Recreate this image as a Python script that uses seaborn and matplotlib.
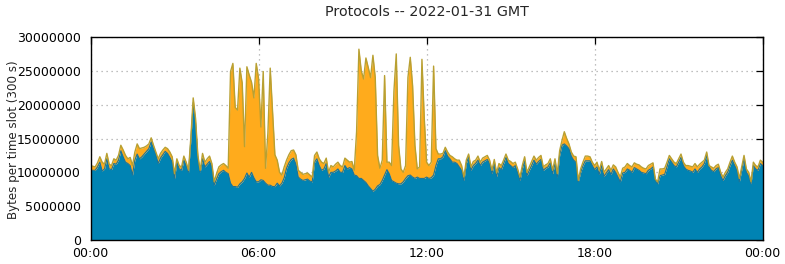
import numpy as np
import pandas as pd
import matplotlib
matplotlib.use("Agg")
import matplotlib.pyplot as plt
from matplotlib.ticker import FuncFormatter, FixedLocator
import seaborn as sns

# 5-minute slots, values in millions of bytes per slot (one row per hour)
blue_mb = [
    10.3, 10.3, 10.3, 10.8, 11.5, 10.2, 10.5, 12.0, 10.5, 10.4, 11.3, 11.2,
    11.8, 13.2, 12.3, 11.5, 11.3, 11.0, 9.6, 11.8, 12.7, 12.0, 12.3, 12.7,
    13.1, 13.5, 14.5, 13.5, 12.7, 11.3, 12.1, 12.6, 13.1, 12.8, 12.2, 11.5,
    9.1, 11.5, 10.5, 10.3, 11.8, 11.0, 10.0, 14.8, 20.3, 17.3, 12.0, 10.0,
    12.0, 10.8, 11.2, 11.6, 10.8, 8.1, 9.0, 9.8, 10.1, 10.3, 10.0, 9.8,
    8.4, 7.9, 7.9, 7.8, 8.3, 8.6, 9.1, 9.9, 9.3, 10.0, 9.2, 8.6,
    8.6, 8.9, 8.8, 8.4, 8.1, 8.1, 7.9, 7.9, 8.4, 8.0, 8.4, 9.2,
    10.6, 11.4, 11.9, 12.1, 11.2, 9.3, 9.0, 8.8, 8.9, 9.0, 8.7, 8.6,
    11.5, 12.0, 11.0, 10.3, 10.5, 11.3, 9.3, 10.0, 10.0, 10.2, 10.5, 10.0,
    10.0, 11.0, 10.5, 10.7, 10.5, 9.6, 9.5, 9.1, 9.1, 8.8, 8.5, 8.0,
    7.6, 7.2, 7.5, 8.0, 8.2, 8.8, 9.6, 10.4, 9.8, 8.8, 8.6, 8.4,
    8.3, 8.3, 8.6, 9.1, 9.5, 9.6, 9.3, 9.1, 9.3, 9.1, 9.1, 9.1,
    9.3, 9.1, 9.2, 9.6, 11.0, 12.0, 12.0, 12.3, 13.2, 12.4, 12.0, 11.5,
    11.5, 11.3, 10.8, 10.3, 8.8, 11.3, 12.3, 10.3, 11.0, 11.3, 11.8, 11.0,
    11.5, 11.7, 11.9, 11.3, 9.8, 11.3, 9.4, 10.7, 10.4, 11.3, 12.2, 11.3,
    11.0, 10.7, 11.0, 10.0, 8.8, 10.5, 11.7, 9.5, 10.3, 11.0, 11.8, 11.2,
    11.6, 11.9, 10.3, 10.6, 10.8, 11.4, 9.8, 11.3, 9.3, 12.5, 14.0, 14.2,
    13.9, 13.5, 12.4, 11.8, 11.5, 8.6, 10.0, 11.0, 11.7, 11.7, 11.7, 11.0,
    10.4, 10.8, 9.7, 11.0, 9.4, 9.9, 10.4, 9.7, 10.5, 10.0, 9.3, 8.6,
    9.9, 10.0, 10.5, 10.3, 10.0, 10.7, 10.5, 10.3, 10.0, 9.9, 9.8, 10.3,
    10.5, 10.8, 8.8, 8.3, 9.5, 9.6, 9.7, 10.8, 12.0, 11.5, 11.0, 10.8,
    11.5, 12.2, 11.0, 10.5, 10.3, 10.2, 10.0, 10.5, 10.0, 10.5, 10.8, 11.3,
    12.5, 10.8, 10.3, 10.1, 10.5, 10.7, 9.5, 8.8, 9.5, 10.0, 11.0, 11.8,
    11.0, 10.3, 8.6, 10.3, 12.0, 10.0, 9.5, 8.3, 11.0, 10.5, 10.3, 11.3,
    11.0,
]

total_mb = [
    11.0, 10.9, 10.8, 11.4, 12.3, 11.5, 11.2, 12.8, 11.2, 11.0, 12.0, 11.8,
    12.5, 14.0, 13.3, 12.5, 12.0, 12.2, 11.0, 13.0, 14.2, 13.5, 13.6, 13.7,
    13.9, 14.2, 15.1, 14.0, 13.0, 12.0, 12.8, 13.3, 13.7, 13.5, 13.0, 12.3,
    9.8, 12.0, 11.0, 10.8, 12.4, 11.5, 10.3, 15.2, 21.0, 18.0, 12.5, 10.3,
    12.8, 11.5, 12.0, 12.4, 11.3, 8.6, 9.8, 10.8, 11.1, 11.3, 11.0, 10.6,
    24.9, 26.1, 19.6, 19.2, 25.4, 23.2, 13.8, 25.6, 24.4, 23.3, 21.0, 26.1,
    23.9, 16.7, 24.9, 10.6, 15.8, 25.4, 19.0, 12.6, 11.8, 10.0, 9.6, 10.8,
    11.8, 12.6, 13.2, 13.3, 12.6, 10.3, 10.0, 9.7, 9.8, 9.9, 9.6, 9.3,
    12.5, 13.0, 12.0, 11.5, 11.3, 12.1, 10.0, 11.0, 10.8, 11.2, 11.5, 11.0,
    10.8, 12.1, 11.8, 11.5, 11.6, 10.3, 16.0, 28.2, 25.0, 23.8, 26.9, 25.5,
    24.0, 27.3, 24.0, 12.5, 10.6, 11.8, 24.3, 11.5, 11.5, 11.0, 22.0, 27.5,
    14.0, 10.5, 10.0, 11.0, 24.0, 27.0, 22.8, 14.0, 10.5, 10.8, 26.7, 18.0,
    11.5, 11.0, 11.5, 25.7, 13.5, 12.7, 12.7, 12.8, 13.7, 13.0, 12.5, 12.3,
    12.0, 11.8, 11.8, 11.0, 9.3, 11.8, 12.7, 10.8, 11.6, 11.8, 12.4, 11.5,
    12.1, 12.3, 12.5, 11.8, 10.3, 11.9, 9.9, 11.3, 11.0, 11.8, 12.7, 11.8,
    11.6, 11.3, 11.5, 10.5, 9.3, 11.0, 12.3, 10.0, 10.8, 11.6, 12.4, 11.8,
    12.2, 12.5, 10.8, 11.1, 11.3, 12.0, 10.3, 12.0, 9.8, 13.2, 14.7, 16.0,
    15.0, 14.2, 13.0, 12.4, 12.3, 8.8, 10.5, 11.5, 12.4, 12.4, 12.3, 11.5,
    11.0, 11.5, 10.3, 11.6, 10.0, 10.5, 11.0, 10.3, 11.1, 10.8, 10.0, 9.3,
    10.6, 10.8, 11.3, 11.0, 10.8, 11.4, 11.2, 11.1, 10.8, 10.6, 10.5, 11.0,
    11.2, 11.4, 9.0, 8.6, 10.5, 10.5, 10.6, 11.5, 12.5, 12.0, 11.5, 11.3,
    12.0, 12.7, 11.5, 11.0, 11.0, 10.9, 10.8, 11.3, 10.8, 11.2, 11.5, 11.8,
    13.0, 11.0, 10.8, 10.6, 11.0, 11.2, 10.0, 9.3, 10.0, 10.5, 11.5, 12.4,
    11.5, 10.8, 9.1, 10.8, 12.5, 10.5, 10.0, 8.6, 11.5, 11.0, 10.8, 11.8,
    11.5,
]

x_tick_hours = [0, 6, 12, 18, 24]
x_tick_labels = ["00:00", "06:00", "12:00", "18:00", "00:00"]
y_ticks = [0, 5000000, 10000000, 15000000, 20000000, 25000000, 30000000]
title = "Protocols -- 2022-01-31 GMT"
ylabel = "Bytes per time slot (300 s)"

slot_minutes = 5
df = pd.DataFrame({
    "hour": np.arange(len(blue_mb)) * slot_minutes / 60.0,
    "blue": np.array(blue_mb) * 1e6,
    "total": np.array(total_mb) * 1e6,
})

sns.set_style("white")
plt.rcParams["font.family"] = ["DejaVu Sans"]

W, H = 785, 264
fig = plt.figure(figsize=(W / 100, H / 100), dpi=100)
ax = fig.add_axes([90.5 / W, 1 - 240 / H, (762.7 - 90.5) / W, (240 - 37) / H])

BLUE = "#0083b3"
ORANGE = "#ffab1c"

ax.fill_between(df["hour"], 0, df["blue"], color=BLUE, linewidth=0, zorder=2)
ax.fill_between(df["hour"], df["blue"], df["total"], color=ORANGE, linewidth=0, zorder=2)
sns.lineplot(data=df, x="hour", y="blue", ax=ax, color="#1f7395", linewidth=0.8,
             estimator=None, sort=False, zorder=3)
sns.lineplot(data=df, x="hour", y="total", ax=ax, color="#b8a032", linewidth=1.0,
             estimator=None, sort=False, zorder=3)

ax.set_xlim(0, 24)
ax.set_ylim(0, 30000000)
ax.xaxis.set_major_locator(FixedLocator(x_tick_hours))
ax.set_xticklabels(x_tick_labels)
ax.yaxis.set_major_locator(FixedLocator(y_ticks))
ax.yaxis.set_major_formatter(FuncFormatter(lambda v, p: f"{int(round(v))}"))

ax.grid(True, linestyle=(0, (1, 3)), color="#aaaaaa", linewidth=0.9)
ax.set_axisbelow(True)
for s in ax.spines.values():
    s.set_visible(True)
    s.set_color("black")
    s.set_linewidth(1.0)
    s.set_zorder(5)
ax.tick_params(direction="in", top=True, right=True, length=5, width=0.9,
               labelsize=9, colors="black")
ax.tick_params(axis="y", pad=7)
ax.tick_params(axis="x", pad=5)
ax.set_xlabel("")
ax.set_ylabel("")

fig.text(426.6 / W, 1 - 11.5 / H, title, ha="center", va="center", fontsize=10.3)
fig.text(13.5 / W, 1 - 139.5 / H, ylabel, ha="center", va="center",
         rotation=90, fontsize=8.6)

fig.savefig("out.png", dpi=100)
